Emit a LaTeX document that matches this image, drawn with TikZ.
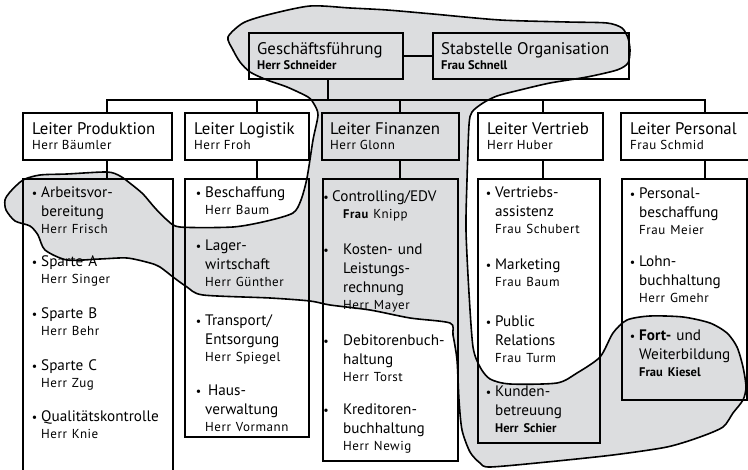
\documentclass[tikz,border=0pt]{standalone}
\usepackage{fontspec}
\setmainfont{PT Sans}
\definecolor{blobgray}{RGB}{220,221,223}
\newcommand\nmf{\fontsize{13}{14}\selectfont\addfontfeature{LetterSpace=4}}
\newcommand\nmb{\fontsize{12.5}{14}\selectfont\bfseries}
\newcommand\blobshape[1]{\path[#1] plot[smooth cycle, tension=0.45] coordinates {
(228,37) (243,23) (267,15) (310,6) (350,8) (387,10) (433,14) (500,20) (567,22) (607,23)
(622,28) (628,38) (630,50) (628,63) (617,70) (587,77) (550,83) (520,90) (497,96) (483,103)
(472,112) (469,125) (467,180) (466,230) (469,293) (473,347) (480,367) (490,379) (510,384)
(557,383) (577,373) (600,357) (613,333) (627,320) (650,316) (683,317) (710,323) (727,333)
(737,347) (743,367) (746,387) (743,400) (733,413) (723,427) (700,437) (667,447) (613,455)
(547,462) (490,467) (480,463) (470,452) (462,430) (459,400) (457,360) (453,335) (450,323)
(410,318) (370,310) (330,305) (310,301) (270,298) (203,295) (187,287) (173,277) (160,267)
(150,263) (127,258) (100,259) (67,260) (45,250) (38,235) (30,226) (15,221) (6,210) (5,200)
(10,192) (23,180) (40,175) (67,174) (107,172) (120,176) (131,184) (143,194) (155,208)
(167,220) (180,227) (233,227) (267,221) (293,213) (301,200) (307,178) (313,140) (318,115)
(314,104) (308,97) (287,87) (267,80) (250,72) (240,62) (233,50)};}
\tikzset{
  box/.style={draw, line width=2.2pt, inner sep=0pt, anchor=north west},
  conn/.style={line width=2.2pt, line join=miter},
  ttl/.style={anchor=base west, inner sep=0pt, font=\fontsize{16.8}{19}\selectfont},
  nm/.style={anchor=base west, inner sep=0pt, font=\nmf},
  nmbold/.style={anchor=base west, inner sep=0pt, font=\nmb},
  bul/.style={anchor=base east, inner sep=0pt, font=\fontsize{12}{19}\selectfont},
  itm/.style={anchor=base west, inner sep=0pt, text width=140pt, align=left, font=\fontsize{15.2}{19}\selectfont},
}
% #1 name, #2 bullet east x, #3 text x, #4 baseline y, #5 text
\newcommand\itm[5]{%
  \node[bul] (#1b) at (#2,#4) {\textbullet};
  \node[itm] (#1) at (#3,#4) {#5};}
\begin{document}
\begin{tikzpicture}[x=1pt, y=-1pt]
\useasboundingbox (0,0) rectangle (748,470);
\clip (0,0) rectangle (748,470);
% blob fill
\blobshape{fill=blobgray}
% top boxes
\node[box, minimum width=154pt, minimum height=46pt] (gf) at (248,32) {};
\node[box, minimum width=196pt, minimum height=46pt] (so) at (432,32) {};
% leader boxes
\node[box, minimum width=149pt, minimum height=47pt] (lp) at (22,112) {};
\node[box, minimum width=124pt, minimum height=47pt] (ll) at (184,112) {};
\node[box, minimum width=137pt, minimum height=47pt] (lf) at (321,112) {};
\node[box, minimum width=125pt, minimum height=47pt] (lv) at (477,112) {};
\node[box, minimum width=140pt, minimum height=47pt] (lpe) at (620,112) {};
% sub boxes
\node[box, minimum width=150pt, minimum height=310pt] (sp) at (22,178) {};
\node[box, minimum width=124pt, minimum height=258pt] (sl) at (184,178) {};
\node[box, minimum width=135pt, minimum height=282pt] (sf) at (322,178) {};
\node[box, minimum width=122pt, minimum height=264pt] (sv) at (477,178) {};
\node[box, minimum width=125pt, minimum height=221pt] (spe) at (621,178) {};
% connectors
\coordinate (bus0) at (328,100);
\coordinate (busL) at (107,100);
\coordinate (bl) at (257,100);
\coordinate (bf) at (400,100);
\coordinate (bv) at (543,100);
\coordinate (busR) at (705,100);
\draw[conn] (gf.east) -- (so.west);
\draw[conn] (gf.south -| bus0) -- (bus0);
\draw[conn] (busL |- lp.north) -- (busL) -- (busR) -- (busR |- lpe.north);
\draw[conn] (bl) -- (bl |- ll.north);
\draw[conn] (bf) -- (bf |- lf.north);
\draw[conn] (bv) -- (bv |- lv.north);
\draw[conn] (lp.south -| busL) -- (sp.north -| busL);
\draw[conn] (ll.south -| bl) -- (sl.north -| bl);
\draw[conn] (lf.south -| bf) -- (sf.north -| bf);
\draw[conn] (lv.south -| bv) -- (sv.north -| bv);
\draw[conn] (lpe.south -| busR) -- (spe.north -| busR);
% top texts
\node[ttl] (gft) at (257,55) {Geschäftsführung};
\node[nmbold] (gfn) at (257,70) {Herr Schneider};
\node[ttl] (sot) at (441,55) {Stabstelle Organisation};
\node[nmbold] (son) at (441,70) {Frau Schnell};
% leader texts
\node[ttl] (lpt) at (32,135) {Leiter Produktion};
\node[nm] (lpn) at (32,150) {Herr Bäumler};
\node[ttl] (llt) at (194,135) {Leiter Logistik};
\node[nm] (lln) at (194,150) {Herr Froh};
\node[ttl] (lft) at (330,135) {Leiter Finanzen};
\node[nm] (lfn) at (330,150) {Herr Glonn};
\node[ttl] (lvt) at (487,135) {Leiter Vertrieb};
\node[nm] (lvn) at (487,150) {Herr Huber};
\node[ttl] (lpet) at (630,135) {Leiter Personal};
\node[nm] (lpen) at (630,150) {Frau Schmid};
% Produktion items
\itm{p1}{37.5}{41}{198}{Arbeitsvor-\\bereitung\\[-2.5pt]{\nmf Herr Frisch}}
\itm{p2}{37.5}{41}{267}{Sparte A\\[-2.5pt]{\nmf Herr Singer}}
\itm{p3}{37.5}{41}{319}{Sparte B\\[-2.5pt]{\nmf Herr Behr}}
\itm{p4}{37.5}{41}{371}{Sparte C\\[-2.5pt]{\nmf Herr Zug}}
\itm{p5}{37.5}{41}{422}{Qualitätskontrolle\\[-2.5pt]{\nmf Herr Knie}}
% Logistik items
\itm{l1}{201.5}{205}{198}{Beschaffung\\[-2.5pt]{\nmf Herr Baum}}
\itm{l2}{201.5}{205}{251}{Lager-\\wirtschaft\\[-2.5pt]{\nmf Herr Günther}}
\itm{l3}{201.5}{205}{326}{Transport/\\Entsorgung\\[-2.5pt]{\nmf Herr Spiegel}}
\itm{l4}{201.5}{205}{396}{\hspace*{3pt}Haus-\\verwaltung\\[-2.5pt]{\nmf Herr Vormann}}
% Finanzen items
\itm{f1}{329}{332}{202}{Controlling/EDV\\[-2.5pt]\hspace*{11pt}{\nmf{\nmb Frau} Knipp}}
\itm{f2}{329}{343}{255}{Kosten- und\\Leistungs-\\rechnung\\[-2.5pt]{\nmf Herr Mayer}}
\itm{f3}{329}{343}{346}{Debitorenbuch-\\haltung\\[-2.5pt]{\nmf Herr Torst}}
\itm{f4}{329}{343}{415}{Kreditoren-\\buchhaltung\\[-2.5pt]{\nmf Herr Newig}}
% Vertrieb items
\itm{v1}{491.5}{495}{198}{Vertriebs-\\assistenz\\[-2.5pt]{\nmf Frau Schubert}}
\itm{v2}{491.5}{495}{270}{Marketing\\[-2.5pt]{\nmf Frau Baum}}
\itm{v3}{491.5}{495}{327}{Public\\Relations\\[-2.5pt]{\nmf Frau Turm}}
\itm{v4}{491.5}{495}{397}{Kunden-\\betreuung\\[-2.5pt]{\nmb Herr Schier}}
% Personal items
\itm{pe1}{635.5}{639}{199}{Personal-\\beschaffung\\[-2.5pt]{\nmf Frau Meier}}
\itm{pe2}{635.5}{639}{267}{Lohn-\\buchhaltung\\[-2.5pt]{\nmf Herr Gmehr}}
\itm{pe3}{635.5}{639}{341}{\textbf{Fort-} und\\Weiterbildung\\[-2.5pt]{\nmb Frau Kiesel}}
% blob outline
\blobshape{draw, line width=1.6pt, line join=round}
\end{tikzpicture}
\end{document}
